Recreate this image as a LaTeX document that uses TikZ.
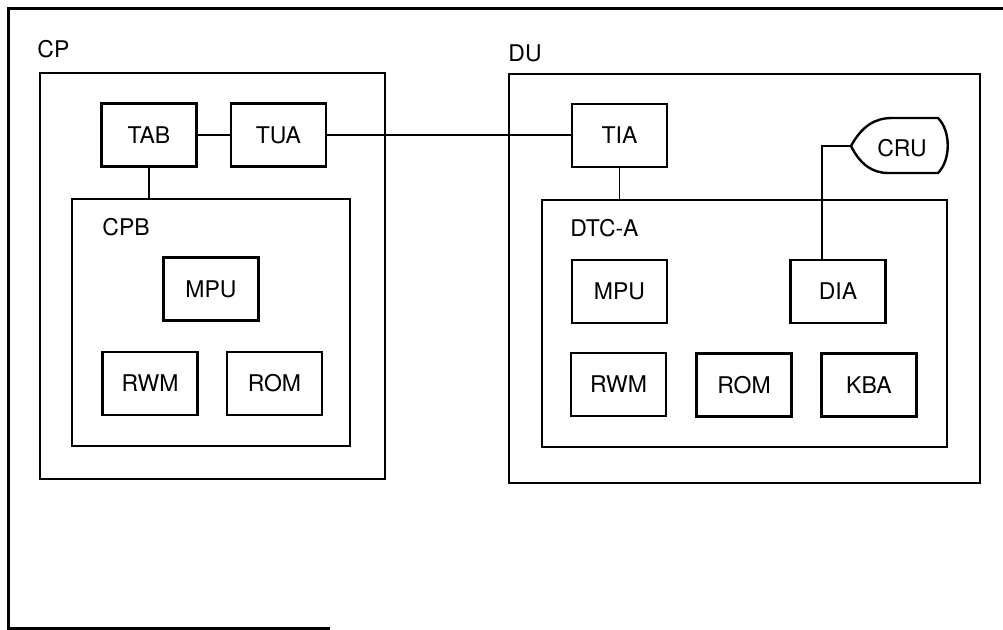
\documentclass[tikz,border=0pt]{standalone}
\usepackage{fontspec}
\setmainfont{TeX Gyre Heros}
\usetikzlibrary{positioning,calc}
\tikzset{unit/.style={draw,line width=1.2pt,minimum width=47.5pt,minimum height=31.5pt,inner sep=0pt,font=\fontsize{11.5}{13}\selectfont},encl/.style={draw,line width=1.2pt,inner sep=0pt},tag/.style={anchor=base west,inner sep=0pt,font=\fontsize{11.5}{13}\selectfont},wire/.style={line width=0.7pt}}
\begin{document}
\begin{tikzpicture}[x=0.5pt,y=-0.5pt]
\useasboundingbox (0,0) rectangle (1003,630);
\draw[line width=1.5pt] (1003,9) -- (8,9) -- (8,629) -- (330,629);
% CP side
\node[encl,minimum width=172.5pt,minimum height=203pt] (cp) at (212.5,276) {};
\node[tag] (cplab) at (37,58) {CP};
\node[encl,minimum width=139pt,minimum height=123.5pt] (cpb) at (211,322.5) {};
\node[tag] (cpblab) at (102,236) {CPB};
\node[unit] (tab) at (149,135) {TAB};
\node[unit,right=16pt of tab] (tua) {TUA};
\node[unit] (cpmpu) at (211,289) {MPU};
\node[unit] (cprwm) at (150,383.5) {RWM};
\node[unit] (cprom) at (274.5,383.5) {ROM};
% DU side
\node[encl,minimum width=235.5pt,minimum height=204.5pt] (du) at (744.5,278.5) {};
\node[tag] (dulab) at (508,62) {DU};
\node[encl,minimum width=202.5pt,minimum height=123.5pt] (dtc) at (744.5,323.5) {};
\node[tag] (dtclab) at (570,236.5) {DTC-A};
\node[unit] (tia) at (619.5,135.5) {TIA};
\node[unit] (dumpu) at (619.5,291.5) {MPU};
\node[unit] (dia) at (838,291.5) {DIA};
\node[unit] (durwm) at (618.5,384.5) {RWM};
\node[unit] (durom) at (744,385) {ROM};
\node[unit] (kba) at (869,385) {KBA};
% CRU display symbol
\coordinate (crutip) at (851,146);
\draw[line width=1.2pt] (crutip) .. controls (862,126) and (875,118) .. (892,118) -- (938,118) .. controls (951,131) and (951,160) .. (938,173) -- (888,173) .. controls (872,173) and (860,164) .. (crutip) -- cycle;
\node[inner sep=0pt,font=\fontsize{11.5}{13}\selectfont] (cru) at (902,148) {CRU};
% links
\draw[wire] (tab) -- (tua);
\draw[wire] (tua.east) -- (tua.east -| tia.west);
\draw[wire] (tab.south) -- (tab.south |- cpb.north);
\draw[wire] (tia.south) -- (tia.south |- dtc.north);
\draw[wire] ([xshift=-8pt]dia.north) |- (crutip);
\end{tikzpicture}
\end{document}
